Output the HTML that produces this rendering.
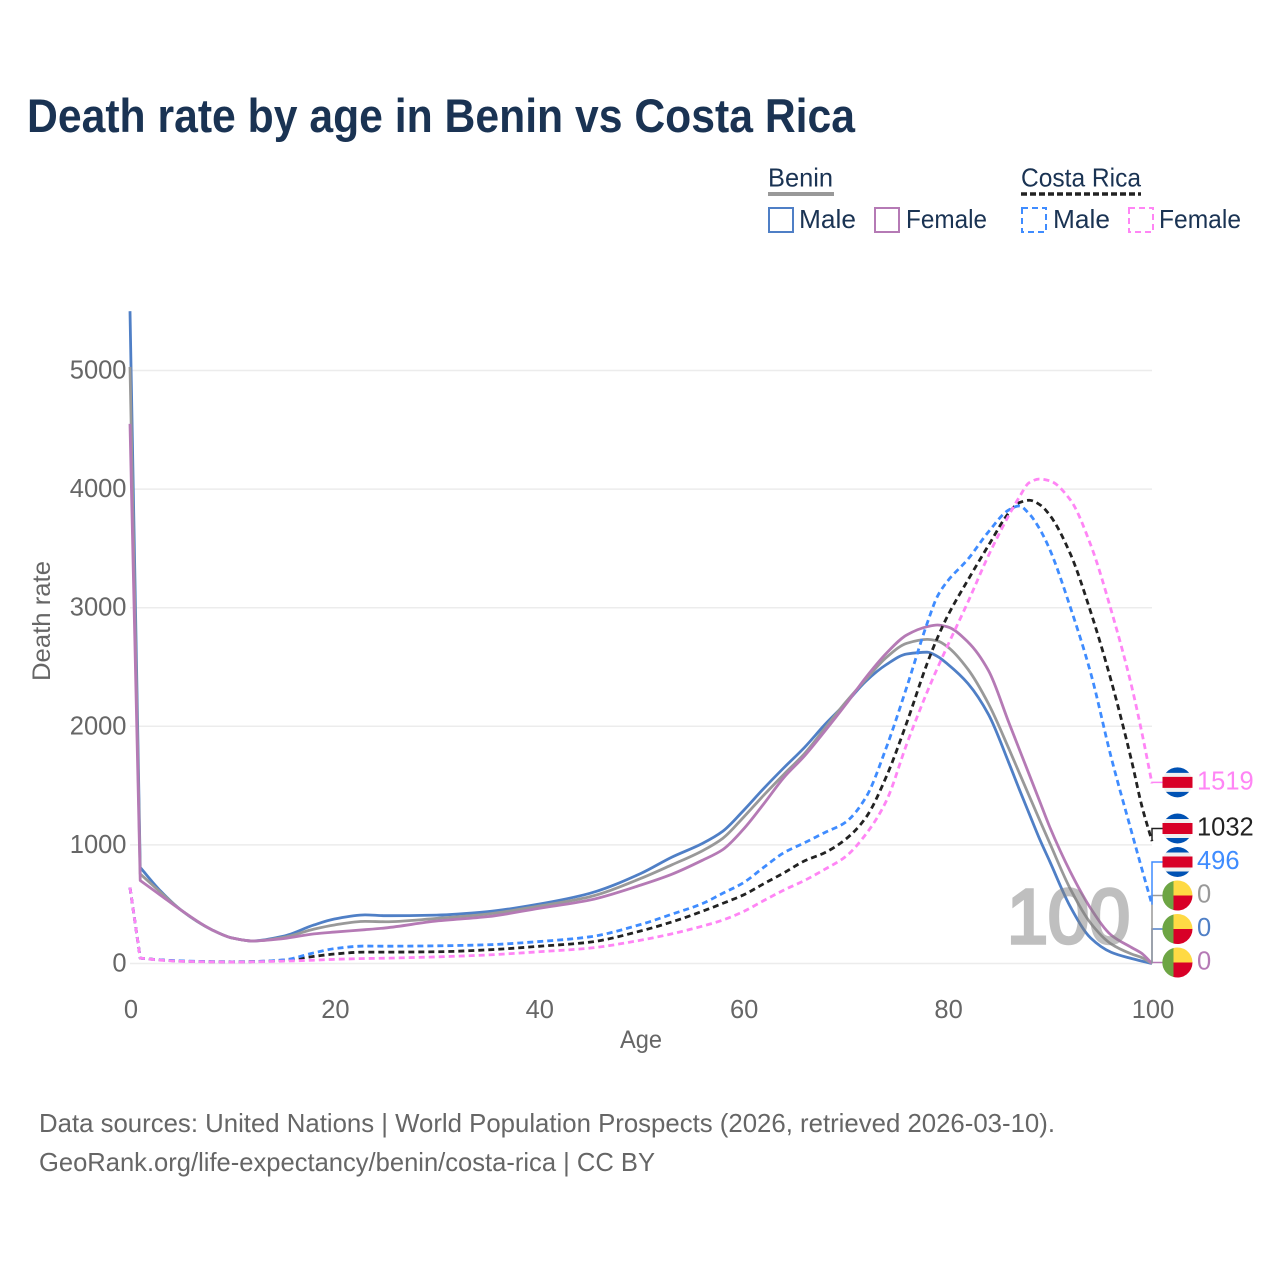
<!DOCTYPE html>
<html lang="en">
<head>
<meta charset="utf-8">
<title>Death rate by age in Benin vs Costa Rica</title>
<style>
html,body{margin:0;padding:0;background:#fff;width:1280px;height:1280px;overflow:hidden}
svg{display:block}
text{font-family:"Liberation Sans",sans-serif}
</style>
</head>
<body>
<svg id="chart" xmlns="http://www.w3.org/2000/svg" width="1280" height="1280" viewBox="0 0 1280 1280">
  <text x="27" y="132" font-size="47" font-weight="700" fill="#1a3353" textLength="828" lengthAdjust="spacingAndGlyphs">Death rate by age in Benin vs Costa Rica</text>

  <g fill="#1a3353" font-size="26">
    <text x="768" y="186.5" textLength="65" lengthAdjust="spacingAndGlyphs">Benin</text>
    <line x1="768" y1="194" x2="834" y2="194" stroke="#999" stroke-width="4"/>
    <rect x="769" y="208" width="24" height="24" fill="none" stroke="#4f7fc6" stroke-width="2"/>
    <text x="799" y="228" textLength="57" lengthAdjust="spacingAndGlyphs">Male</text>
    <rect x="875" y="208" width="24" height="24" fill="none" stroke="#b57ab5" stroke-width="2"/>
    <text x="906" y="228" textLength="81" lengthAdjust="spacingAndGlyphs">Female</text>
    <text x="1021" y="186.5" textLength="120" lengthAdjust="spacingAndGlyphs">Costa Rica</text>
    <line x1="1021" y1="194" x2="1141" y2="194" stroke="#222" stroke-width="3.5" stroke-dasharray="6 3"/>
    <rect x="1022" y="208" width="24" height="24" fill="none" stroke="#3f8cff" stroke-width="2" stroke-dasharray="6 4"/>
    <text x="1053" y="228" textLength="57" lengthAdjust="spacingAndGlyphs">Male</text>
    <rect x="1129" y="208" width="24" height="24" fill="none" stroke="#ff85f5" stroke-width="2" stroke-dasharray="6 4"/>
    <text x="1159" y="228" textLength="82" lengthAdjust="spacingAndGlyphs">Female</text>
  </g>

  <g id="grid"></g>
  <g id="yticks"></g>
  <g id="xticks"></g>
  <text transform="translate(50,621) rotate(-90)" text-anchor="middle" font-size="25" fill="#666" textLength="120" lengthAdjust="spacingAndGlyphs">Death rate</text>
  <text x="641" y="1048" text-anchor="middle" font-size="25" fill="#666" textLength="42" lengthAdjust="spacingAndGlyphs">Age</text>

  <g id="lines"></g>
  <g id="leaders"></g>
  <g id="ends"></g>

  <text x="1007" y="943" font-size="77" font-weight="400" fill="#808080" stroke="#808080" stroke-width="3.5" opacity="0.5" textLength="123" lengthAdjust="spacingAndGlyphs">100</text>

  <g font-size="26" fill="#666">
    <text x="39" y="1132" textLength="1016" lengthAdjust="spacingAndGlyphs">Data sources: United Nations | World Population Prospects (2026, retrieved 2026-03-10).</text>
    <text x="39" y="1171" textLength="616" lengthAdjust="spacingAndGlyphs">GeoRank.org/life-expectancy/benin/costa-rica | CC BY</text>
  </g>
</svg>

<script>
const ages = [0,1,3,5,8,10,12,15,18,20,23,25,30,35,40,45,50,53,56,58,60,62,64,66,68,70,72,74,76,78,79,80,82,84,86,87,88,89,90,92,94,96,98,99,100];
const beninMale = [5500,810,610,450,285,215,190,230,325,375,410,403,408,437,501,592,760,896,1012,1115,1287,1475,1652,1822,2015,2190,2380,2520,2610,2625,2590,2525,2360,2100,1690,1472,1260,1050,860,480,215,95,42,20,0];
const beninAll = [5030,755,600,450,285,215,190,220,290,325,355,352,380,417,484,563,718,831,950,1055,1230,1418,1597,1770,1985,2200,2395,2580,2700,2733,2720,2670,2480,2190,1810,1610,1410,1210,1014,630,340,165,80,50,0];
const beninFemale = [4550,700,575,450,285,215,190,210,250,265,285,300,358,395,465,535,662,752,870,960,1130,1345,1570,1750,1960,2180,2412,2615,2770,2840,2854,2838,2710,2470,2030,1810,1590,1370,1150,775,465,240,135,85,0];
const costaRicaAll = [640,45,30,20,15,14,16,28,60,80,96,96,99,115,145,180,275,350,440,507,577,672,765,865,935,1046,1230,1575,2030,2530,2745,2930,3235,3525,3800,3885,3906,3870,3780,3456,2965,2385,1710,1330,1032];
const costaRicaMale = [640,45,30,22,16,14,16,30,90,125,147,146,149,158,185,225,330,415,505,592,680,810,935,1018,1105,1190,1400,1820,2330,2868,3095,3225,3410,3640,3825,3858,3790,3665,3490,3006,2450,1740,1110,800,496];
const costaRicaFemale = [640,45,28,18,14,12,14,20,28,35,42,45,56,72,99,130,197,250,315,366,437,530,620,700,795,900,1090,1370,1850,2290,2490,2680,3050,3440,3780,3930,4055,4085,4070,3910,3530,2980,2340,1950,1519];
const xTickValues = [0,20,40,60,80,100];
const yTickValues = [0,1000,2000,3000,4000,5000];

const SVGNS = 'http://www.w3.org/2000/svg';
const xScale = a => 130 + a * 10.22;
const yScale = v => 963.5 - v * 0.1186;

function make(tag, attrs, parent) {
  const e = document.createElementNS(SVGNS, tag);
  for (const k in attrs) e.setAttribute(k, attrs[k]);
  parent.appendChild(e);
  return e;
}

/* Monotone cubic path through points */
function monotonePath(pts) {
  const n = pts.length, d = [], m = [];
  for (let i = 0; i < n - 1; i++) d.push((pts[i+1][1] - pts[i][1]) / (pts[i+1][0] - pts[i][0]));
  m[0] = d[0];
  m[n-1] = d[n-2];
  for (let i = 1; i < n - 1; i++) {
    if (d[i-1] * d[i] <= 0) { m[i] = 0; continue; }
    const h0 = pts[i][0] - pts[i-1][0], h1 = pts[i+1][0] - pts[i][0];
    const w1 = 2 * h1 + h0, w2 = h1 + 2 * h0;
    m[i] = (w1 + w2) / (w1 / d[i-1] + w2 / d[i]);
  }
  m[1] = d[1];
  let p = 'M' + pts[0][0].toFixed(2) + ' ' + pts[0][1].toFixed(2);
  for (let i = 0; i < n - 1; i++) {
    if (i === 0) { p += 'L' + pts[1][0].toFixed(2) + ' ' + pts[1][1].toFixed(2); continue; }
    const h = (pts[i+1][0] - pts[i][0]) / 3;
    p += 'C' + (pts[i][0] + h).toFixed(2) + ' ' + (pts[i][1] + m[i] * h).toFixed(2) + ' '
      + (pts[i+1][0] - h).toFixed(2) + ' ' + (pts[i+1][1] - m[i+1] * h).toFixed(2) + ' '
      + pts[i+1][0].toFixed(2) + ' ' + pts[i+1][1].toFixed(2);
  }
  return p;
}

const gridG = document.getElementById('grid');
const yTickG = document.getElementById('yticks');
const xTickG = document.getElementById('xticks');
yTickValues.forEach(v => {
  const gl = make('line', {x1: xScale(0), x2: xScale(100), y1: yScale(v), y2: yScale(v), stroke: '#ececec', 'stroke-width': 1.5}, gridG);
  
  
  const t = make('text', {x: 126.5, y: yScale(v) + 8, 'text-anchor': 'end', 'font-size': 25.5, fill: '#666'}, yTickG);
  t.textContent = v;
  
  
});
xTickValues.forEach(v => {
  const t = make('text', {x: xScale(v) + 1, y: 1018, 'text-anchor': 'middle', 'font-size': 25.5, fill: '#666'}, xTickG);
  t.textContent = v;
  
  
});

const seriesList = [
  {key: 'benin-male', values: beninMale, color: '#4f7fc6', dash: null, flag: 'bj'},
  {key: 'benin-all', values: beninAll, color: '#999999', dash: null, flag: 'bj'},
  {key: 'benin-female', values: beninFemale, color: '#b57ab5', dash: null, flag: 'bj'},
  {key: 'costa-rica-all', values: costaRicaAll, color: '#222222', dash: '6 4', flag: 'cr'},
  {key: 'costa-rica-male', values: costaRicaMale, color: '#3f8cff', dash: '6 4', flag: 'cr'},
  {key: 'costa-rica-female', values: costaRicaFemale, color: '#ff85f5', dash: '6 4', flag: 'cr'}
];

const lineG = document.getElementById('lines');
seriesList.forEach(s => {
  const pts = ages.map((a, i) => [xScale(a), yScale(s.values[i])]);
  const path = make('path', {d: monotonePath(pts), fill: 'none', stroke: s.color, 'stroke-width': 2.8, 'stroke-linejoin': 'round'}, lineG);
  if (s.dash) path.setAttribute('stroke-dasharray', s.dash);
  
  
});

/* End labels: stacked upward from the bottom so they never overlap */
const labelOrder = [seriesList[2], seriesList[0], seriesList[1], seriesList[4], seriesList[3], seriesList[5]]
  .slice().sort((a, b) => a.values[a.values.length-1] - b.values[b.values.length-1]);
const leaderG = document.getElementById('leaders');
const endG = document.getElementById('ends');
let prevY = null;
labelOrder.forEach(s => {
  const last = s.values[s.values.length-1];
  const yEnd = yScale(last);
  let ly = yEnd - 1;
  if (prevY !== null && ly > prevY - 33.5) ly = prevY - 33.5;
  prevY = ly;
  const leader = make('polyline', {points: xScale(100) + ',' + yEnd + ' ' + xScale(100) + ',' + ly + ' 1163,' + ly, fill: 'none', stroke: s.color, 'stroke-width': 1.5}, leaderG);
  
  

  const g = make('g', {transform: 'translate(1177.5,' + ly + ')'}, endG);
  
  
  if (s.flag === 'cr') {
    make('circle', {r: 15, fill: '#f0f0f0'}, g);
    make('path', {d: 'M-11.6 -9.5H11.6A15 15 0 0 0 -11.6 -9.5Z', fill: '#0052b4'}, g);
    make('path', {d: 'M-11.6 9.5H11.6A15 15 0 0 1 -11.6 9.5Z', fill: '#0052b4'}, g);
    make('path', {d: 'M-15 -5.5H15V5.5H-15Z', fill: '#d80027'}, g);
  } else {
    make('path', {d: 'M-4 -14.5A15 15 0 0 0 -4 14.5Z', fill: '#6da544'}, g);
    make('path', {d: 'M-4 -14.5A15 15 0 0 1 15 0H-4Z', fill: '#ffda44'}, g);
    make('path', {d: 'M-4 14.5A15 15 0 0 0 15 0H-4Z', fill: '#d80027'}, g);
  }
  const t = make('text', {x: 1197, y: ly + 7, 'font-size': 25.5, fill: s.color}, endG);
  t.textContent = last;
  
  
});
</script>
</body>
</html>
